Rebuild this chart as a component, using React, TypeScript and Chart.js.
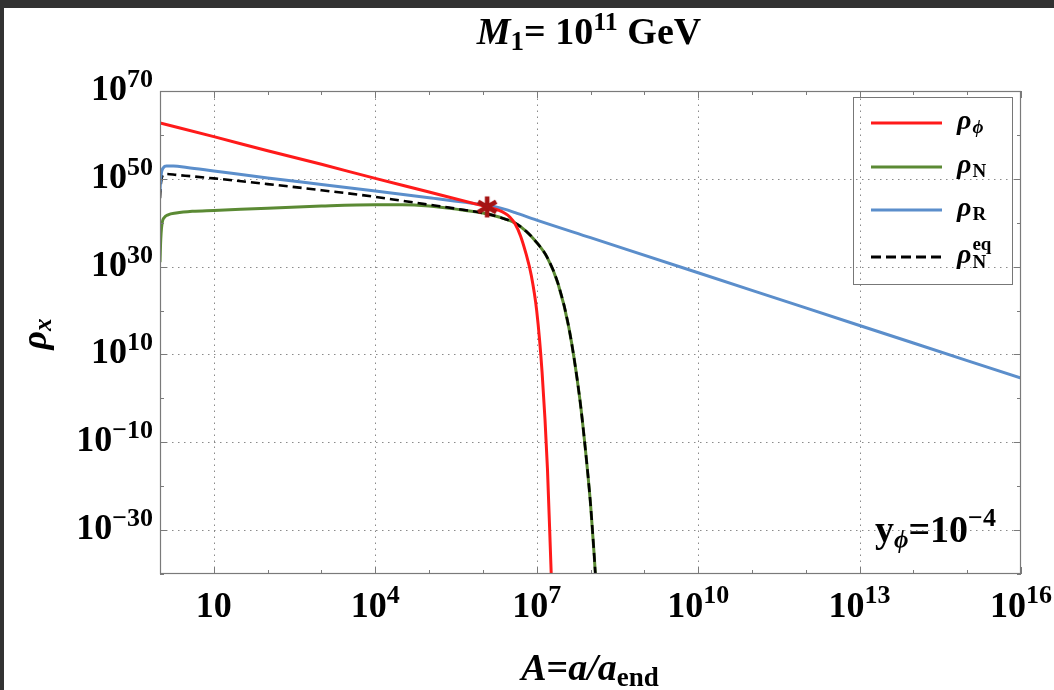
import { useEffect, useRef } from "react";
import { Chart, registerables } from "chart.js";

Chart.register(...registerables);

const W = 1054;
const H = 690;
const SERIF = '"Liberation Serif", "Times New Roman", Times, serif';

// All series values are log10 values:
// x = log10(A), y = log10(rho)
const PHI_LOGA = [0, 1, 2, 3, 4, 5, 6.08, 6.2, 6.3, 6.4, 6.5, 6.6, 6.7, 6.8, 6.9, 7.0, 7.1, 7.2, 7.27, 7.32];
const PHI_LOGRHO = [62.7, 59.6, 56.4, 53.3, 50.1, 47.0, 43.6, 43.2, 42.8, 42.2, 41.3, 39.7, 37.0, 33.0, 28.0, 20.0, 6.0, -16.0, -40.0, -55.0];

const R_LOGA = [0, 0.01, 0.03, 0.06, 0.12, 0.25, 0.5, 1, 2, 3, 4, 5, 6, 6.2, 6.4, 6.6, 7, 8, 10, 12, 14, 16];
const R_LOGRHO = [47.3, 49.5, 51.6, 52.5, 52.9, 52.9, 52.6, 51.8, 50.2, 48.7, 47.2, 45.7, 44.1, 43.7, 43.1, 42.3, 40.6, 36.6, 28.6, 20.6, 12.6, 4.6];

const N_LOGA = [0, 0.01, 0.02, 0.04, 0.08, 0.15, 0.3, 0.6, 1, 2, 3, 4, 4.5, 5, 5.5, 6, 6.3, 6.6, 6.8, 7.0, 7.2, 7.4, 7.6, 7.8, 7.9, 8.0, 8.07, 8.12];
const N_LOGRHO = [31, 35, 37.5, 40, 41.2, 41.8, 42.2, 42.6, 42.8, 43.3, 43.8, 44.1, 44.1, 43.8, 43.1, 42.2, 41.3, 39.9, 38.1, 35.5, 32, 26, 16, 0, -11, -24, -36, -46];

const NEQ_LOGA = [0, 0.01, 0.03, 0.06, 0.12, 0.3, 1, 2, 3, 4, 4.5, 5, 5.5, 6, 6.3, 6.6, 6.8, 7.0, 7.2, 7.4, 7.6, 7.8, 7.9, 8.0, 8.07, 8.12];
const NEQ_LOGRHO = [45.6, 48, 50, 50.9, 51.1, 50.9, 50.1, 48.8, 47.4, 45.9, 45.0, 44.1, 43.2, 42.2, 41.3, 39.9, 38.1, 35.5, 32, 26, 16, 0, -11, -24, -36, -46];

const STAR_LOGA = [6.08];
const STAR_LOGRHO = [43.6];

// Axis ticks (exponents of 10)
const X_MAJOR_EXP = [1, 4, 7, 10, 13, 16];
const X_MINOR_EXP = [0, 2, 3, 5, 6, 8, 9, 11, 12, 14, 15];
const X_GRID_EXP = [1, 4, 7, 10, 13];
const Y_MAJOR_EXP = [70, 50, 30, 10, -10, -30];
const Y_MINOR_EXP = [60, 40, 20, 0, -20, -40];
const Y_GRID_EXP = [50, 30, 10, -10, -30];

const X_MIN = 1;
const X_MAX = 1e16;
const Y_MIN = 1e-40;
const Y_MAX = 1e70;

const COL_PHI = "#ff1a1a";
const COL_N = "#5b8a34";
const COL_R = "#5b8ecb";
const COL_NEQ = "#000000";
const COL_STAR = "#a51414";

const SERIES_NAMES = ["ρϕ", "ρN", "ρR", "ρNeq"];

type Run = { t: string; font: string; dy: number };

function runsWidth(ctx: CanvasRenderingContext2D, runs: Run[]) {
  let w = 0;
  for (const r of runs) {
    ctx.font = r.font;
    w += ctx.measureText(r.t).width;
  }
  return w;
}

function drawRuns(
  ctx: CanvasRenderingContext2D,
  runs: Run[],
  x: number,
  y: number,
  align: "left" | "center" | "right"
) {
  const w = runsWidth(ctx, runs);
  let cx = align === "left" ? x : align === "center" ? x - w / 2 : x - w;
  ctx.textAlign = "left";
  ctx.textBaseline = "alphabetic";
  for (const r of runs) {
    ctx.font = r.font;
    ctx.fillText(r.t, cx, y + r.dy);
    cx += ctx.measureText(r.t).width;
  }
}

function expText(e: number) {
  return e < 0 ? "−" + String(-e) : String(e);
}

function pts(lx: number[], ly: number[]) {
  return lx.map((v, i) => ({ x: Math.pow(10, v), y: Math.pow(10, ly[i]) }));
}

function makeStar(color: string) {
  const c = document.createElement("canvas");
  c.width = 26;
  c.height = 26;
  const g = c.getContext("2d")!;
  g.strokeStyle = color;
  g.lineWidth = 4.6;
  g.lineCap = "butt";
  for (let k = 0; k < 3; k++) {
    const a = Math.PI / 2 + (k * Math.PI) / 3;
    g.beginPath();
    g.moveTo(13 + 10.5 * Math.cos(a), 13 + 10.5 * Math.sin(a));
    g.lineTo(13 - 10.5 * Math.cos(a), 13 - 10.5 * Math.sin(a));
    g.stroke();
  }
  return c;
}

const decor = {
  id: "decor",
  beforeDraw(chart: any) {
    const ctx: CanvasRenderingContext2D = chart.ctx;
    ctx.save();
    ctx.fillStyle = "#ffffff";
    ctx.fillRect(0, 0, W, H);
    ctx.fillStyle = "#323232";
    ctx.fillRect(0, 0, W, 8);
    ctx.fillRect(0, 0, 4, H);
    ctx.restore();
  },
  beforeDatasetsDraw(chart: any) {
    const ctx: CanvasRenderingContext2D = chart.ctx;
    const { left, right, top, bottom } = chart.chartArea;
    const xs = chart.scales.x;
    const ys = chart.scales.y;
    ctx.save();
    ctx.strokeStyle = "#8a8a8a";
    ctx.lineWidth = 1;
    ctx.setLineDash([1.5, 4.5]);
    for (const e of X_GRID_EXP) {
      const px = Math.round(xs.getPixelForValue(Math.pow(10, e))) + 0.5;
      ctx.beginPath();
      ctx.moveTo(px, bottom);
      ctx.lineTo(px, top);
      ctx.stroke();
    }
    for (const e of Y_GRID_EXP) {
      const py = Math.round(ys.getPixelForValue(Math.pow(10, e))) + 0.5;
      ctx.beginPath();
      ctx.moveTo(left, py);
      ctx.lineTo(right, py);
      ctx.stroke();
    }
    ctx.restore();
  },
  afterDatasetsDraw(chart: any) {
    const ctx: CanvasRenderingContext2D = chart.ctx;
    const { left, right, top, bottom } = chart.chartArea;
    const xs = chart.scales.x;
    const ys = chart.scales.y;
    ctx.save();
    // frame
    ctx.strokeStyle = "#7a7a7a";
    ctx.lineWidth = 1.2;
    ctx.strokeRect(left + 0.5, top + 0.5, right - left - 1, bottom - top - 1);
    // inward ticks on all four sides
    ctx.lineWidth = 1;
    const tick = (px: number, len: number) => {
      ctx.beginPath();
      ctx.moveTo(px, bottom);
      ctx.lineTo(px, bottom - len);
      ctx.moveTo(px, top);
      ctx.lineTo(px, top + len);
      ctx.stroke();
    };
    const ytick = (py: number, len: number) => {
      ctx.beginPath();
      ctx.moveTo(left, py);
      ctx.lineTo(left + len, py);
      ctx.moveTo(right, py);
      ctx.lineTo(right - len, py);
      ctx.stroke();
    };
    for (const e of X_MAJOR_EXP) tick(Math.round(xs.getPixelForValue(Math.pow(10, e))) + 0.5, 7);
    for (const e of X_MINOR_EXP) tick(Math.round(xs.getPixelForValue(Math.pow(10, e))) + 0.5, 4);
    for (const e of Y_MAJOR_EXP) ytick(Math.round(ys.getPixelForValue(Math.pow(10, e))) + 0.5, 7);
    for (const e of Y_MINOR_EXP) ytick(Math.round(ys.getPixelForValue(Math.pow(10, e))) + 0.5, 4);

    ctx.fillStyle = "#000";
    const base = `bold 36px ${SERIF}`;
    const sup = `bold 26px ${SERIF}`;
    // x tick labels
    for (const e of X_MAJOR_EXP) {
      const px = xs.getPixelForValue(Math.pow(10, e));
      const runs: Run[] = [{ t: "10", font: base, dy: 0 }];
      if (e !== 1) runs.push({ t: expText(e), font: sup, dy: -14 });
      drawRuns(ctx, runs, px, 617, "center");
    }
    // y tick labels
    for (const e of Y_MAJOR_EXP) {
      const py = ys.getPixelForValue(Math.pow(10, e));
      drawRuns(
        ctx,
        [
          { t: "10", font: base, dy: 0 },
          { t: expText(e), font: sup, dy: -13 },
        ],
        153,
        py + 9,
        "right"
      );
    }

    // title
    drawRuns(
      ctx,
      [
        { t: "M", font: `italic bold 38px ${SERIF}`, dy: 0 },
        { t: "1", font: `bold 27px ${SERIF}`, dy: 6 },
        { t: "= 10", font: `bold 38px ${SERIF}`, dy: 0 },
        { t: "11", font: `bold 26px ${SERIF}`, dy: -14 },
        { t: " GeV", font: `bold 38px ${SERIF}`, dy: 0 },
      ],
      589,
      44,
      "center"
    );

    // x-axis title
    drawRuns(
      ctx,
      [
        { t: "A", font: `italic bold 38px ${SERIF}`, dy: 0 },
        { t: "=", font: `bold 38px ${SERIF}`, dy: 0 },
        { t: "a/a", font: `italic bold 38px ${SERIF}`, dy: 0 },
        { t: "end", font: `bold 27px ${SERIF}`, dy: 6 },
      ],
      590,
      680,
      "center"
    );

    // y-axis title (rotated)
    ctx.save();
    ctx.translate(46, 334);
    ctx.rotate(-Math.PI / 2);
    drawRuns(
      ctx,
      [
        { t: "ρ", font: `italic bold 36px ${SERIF}`, dy: 0 },
        { t: "x", font: `italic bold 25px ${SERIF}`, dy: 5 },
      ],
      0,
      0,
      "center"
    );
    ctx.restore();

    // legend
    ctx.strokeStyle = "#777";
    ctx.lineWidth = 1;
    ctx.strokeRect(853.5, 97.5, 159, 187);
    const rows = [123, 167, 210, 257];
    const cols = [COL_PHI, COL_N, COL_R, COL_NEQ];
    rows.forEach((ry, i) => {
      ctx.strokeStyle = cols[i];
      ctx.lineWidth = 3;
      ctx.setLineDash(i === 3 ? [10, 5] : []);
      ctx.beginPath();
      ctx.moveTo(871, ry);
      ctx.lineTo(942, ry);
      ctx.stroke();
      ctx.setLineDash([]);
    });
    ctx.fillStyle = "#000";
    const rho = `italic bold 28px ${SERIF}`;
    const subF = `bold 19px ${SERIF}`;
    const subI = `italic bold 19px ${SERIF}`;
    SERIES_NAMES.forEach((name, i) => {
      const ry = rows[i];
      const b = ry + 6;
      ctx.font = rho;
      ctx.textAlign = "left";
      ctx.textBaseline = "alphabetic";
      ctx.fillText(name.charAt(0), 957, b);
      const w = ctx.measureText(name.charAt(0)).width;
      const rest = name.slice(1);
      if (i === 0) {
        ctx.font = subI;
        ctx.fillText(rest, 957 + w + 1, b + 4);
      } else if (i === 3) {
        ctx.font = subF;
        ctx.fillText("N", 957 + w + 1, b + 5);
        ctx.fillText(rest.slice(1), 957 + w + 1, b - 13);
      } else {
        ctx.font = subF;
        ctx.fillText(rest, 957 + w + 1, b + 4);
      }
    });

    // annotation
    drawRuns(
      ctx,
      [
        { t: "y", font: `bold 38px ${SERIF}`, dy: 0 },
        { t: "ϕ", font: `italic bold 25px ${SERIF}`, dy: 6 },
        { t: "=10", font: `bold 38px ${SERIF}`, dy: 0 },
        { t: "−4", font: `bold 26px ${SERIF}`, dy: -16 },
      ],
      875,
      542,
      "left"
    );
    ctx.restore();
  },
};

export default function App() {
  const ref = useRef<HTMLCanvasElement | null>(null);
  useEffect(() => {
    document.body.style.margin = "0";
    document.body.style.background = "#ffffff";
    const canvas = ref.current!;
    const star = makeStar(COL_STAR);
    const lineBase = {
      pointRadius: 0,
      borderWidth: 3,
      fill: false,
      cubicInterpolationMode: "monotone" as const,
      borderCapStyle: "butt" as const,
      borderJoinStyle: "round" as const,
    };
    const chart = new Chart(canvas, {
      type: "line",
      data: {
        datasets: [
          {
            label: "star",
            data: pts(STAR_LOGA, STAR_LOGRHO),
            showLine: false,
            pointStyle: star as any,
            pointRadius: 10,
            borderColor: COL_STAR,
            backgroundColor: COL_STAR,
            order: 0,
          },
          { ...lineBase, label: SERIES_NAMES[0], data: pts(PHI_LOGA, PHI_LOGRHO), borderColor: COL_PHI, order: 1 },
          { ...lineBase, label: SERIES_NAMES[2], data: pts(R_LOGA, R_LOGRHO), borderColor: COL_R, order: 2 },
          {
            ...lineBase,
            label: SERIES_NAMES[3],
            data: pts(NEQ_LOGA, NEQ_LOGRHO),
            borderColor: COL_NEQ,
            borderWidth: 2.6,
            borderDash: [9, 5],
            order: 3,
          },
          { ...lineBase, label: SERIES_NAMES[1], data: pts(N_LOGA, N_LOGRHO), borderColor: COL_N, order: 4 },
        ],
      },
      options: {
        animation: false,
        responsive: false,
        devicePixelRatio: 1,
        layout: { padding: { left: 160, top: 91, right: 33, bottom: 116 } },
        plugins: {
          legend: { display: false },
          tooltip: { enabled: false },
          title: { display: false },
        },
        scales: {
          x: {
            type: "logarithmic",
            min: X_MIN,
            max: X_MAX,
            display: false,
            afterBuildTicks: (s: any) => {
              s.ticks = X_MAJOR_EXP.map((e) => ({ value: Math.pow(10, e) }));
            },
          },
          y: {
            type: "logarithmic",
            min: Y_MIN,
            max: Y_MAX,
            display: false,
            afterBuildTicks: (s: any) => {
              s.ticks = Y_MAJOR_EXP.map((e) => ({ value: Math.pow(10, e) }));
            },
          },
        },
      },
      plugins: [decor],
    } as any);
    return () => chart.destroy();
  }, []);
  return (
    <div style={{ width: W, height: H, position: "relative" }}>
      <canvas ref={ref} width={W} height={H} style={{ display: "block", width: W, height: H }} />
    </div>
  );
}
